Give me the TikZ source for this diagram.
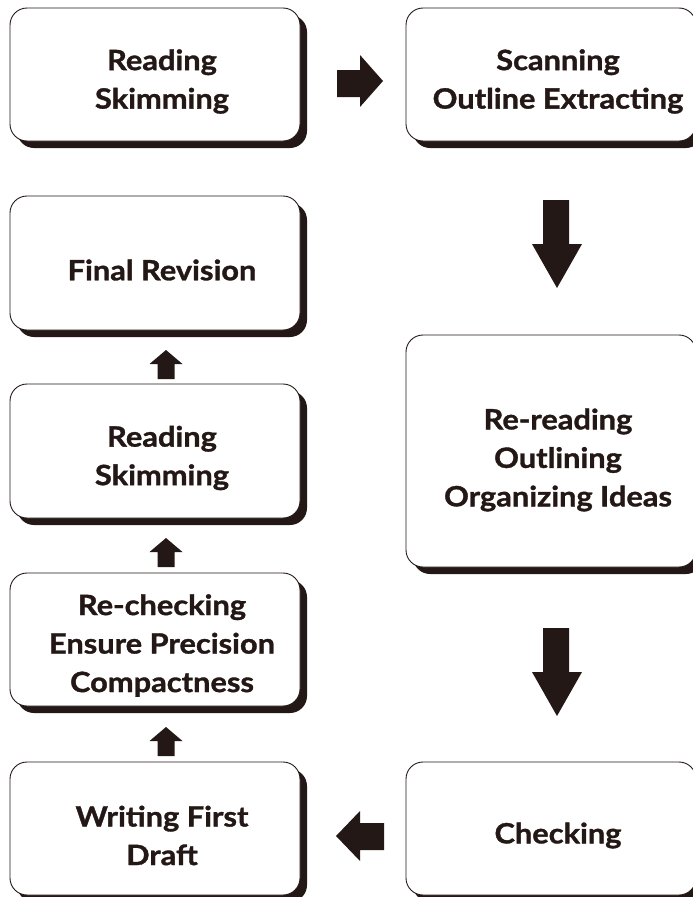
\documentclass[tikz,border=0pt]{standalone}
\usepackage{fontspec}
\setmainfont{Lato}[BoldFont={Lato Bold},BoldFeatures={FakeBold=1.2,FakeStretch=1.1}]
\usetikzlibrary{shadows}
\definecolor{ink}{HTML}{231815}
\tikzset{
  box/.style={draw=ink, line width=0.9pt, fill=white, rounded corners=17pt,
    minimum width=290pt, inner sep=0pt,
    general shadow={fill=ink, shadow xshift=7pt, shadow yshift=-7pt}},
  lbl/.style={font=\bfseries\fontsize{28}{38.5}\selectfont, text=ink, align=center, inner sep=0pt},
  blk/.style={fill=ink, draw=none}
}
\begin{document}
\begin{tikzpicture}[x=1pt,y=-1pt]
\useasboundingbox (0,0) rectangle (693,897);
\clip (0,0) rectangle (693,897);
% boxes
\node[box, minimum height=133pt] (b1) at (155,74.5) {};
\node[box, minimum height=133pt] (b2) at (551,74.5) {};
\node[box, minimum height=232pt] (b3) at (551,451) {};
\node[box, minimum height=133pt] (b4) at (551,828.5) {};
\node[box, minimum height=133pt] (b5) at (155,828.5) {};
\node[box, minimum height=133pt] (b6) at (155,639.5) {};
\node[box, minimum height=134pt] (b7) at (155,451) {};
\node[box, minimum height=134pt] (b8) at (155,263) {};
% labels
\node[lbl] (t1) at ([xshift=7pt,yshift=-7pt]b1.center) {Reading\\Skimming};
\node[lbl] (t2) at ([xshift=7pt,yshift=-7pt]b2.center) {Scanning\\Outline Extracting};
\node[lbl] (t3) at ([xshift=7pt,yshift=-9pt]b3.center) {Re-reading\\Outlining\\Organizing Ideas};
\node[lbl] (t4) at ([xshift=7pt,yshift=-7pt]b4.center) {Checking};
\node[lbl] (t5) at ([xshift=7pt,yshift=-7pt]b5.center) {Writing First\\Draft};
\node[lbl] (t6) at ([xshift=7pt,yshift=-6pt]b6.center) {Re-checking\\Ensure Precision\\Compactness};
\node[lbl] (t7) at ([xshift=7pt,yshift=-7pt]b7.center) {Reading\\Skimming};
\node[lbl] (t8) at ([xshift=7pt,yshift=-7pt]b8.center) {Final Revision};
% block arrows
% right arrow b1 -> b2
\fill[blk] (337,70) -- (360,70) -- (360,55) -- (383,81) -- (360,107) -- (360,97) -- (337,97) -- cycle;
% down arrow b2 -> b3
\fill[blk] (543,200) -- (569,200) -- (569,244) -- (582,244) -- (557,288) -- (532,244) -- (543,244) -- cycle;
% down arrow b3 -> b4
\fill[blk] (543,628) -- (569,628) -- (569,672) -- (582,672) -- (557,716) -- (532,672) -- (543,672) -- cycle;
% left arrow b4 -> b5
\fill[blk] (384,823) -- (360,823) -- (360,811) -- (336,836) -- (360,861) -- (360,850) -- (384,850) -- cycle;
% up arrows
\foreach \t in {350,538,727}{
  \fill[blk] (166,\t) -- (182.5,\t+14) -- (174.5,\t+14) -- (174.5,\t+29) -- (157.5,\t+29) -- (157.5,\t+14) -- (149.5,\t+14) -- cycle;
}
\end{tikzpicture}
\end{document}
